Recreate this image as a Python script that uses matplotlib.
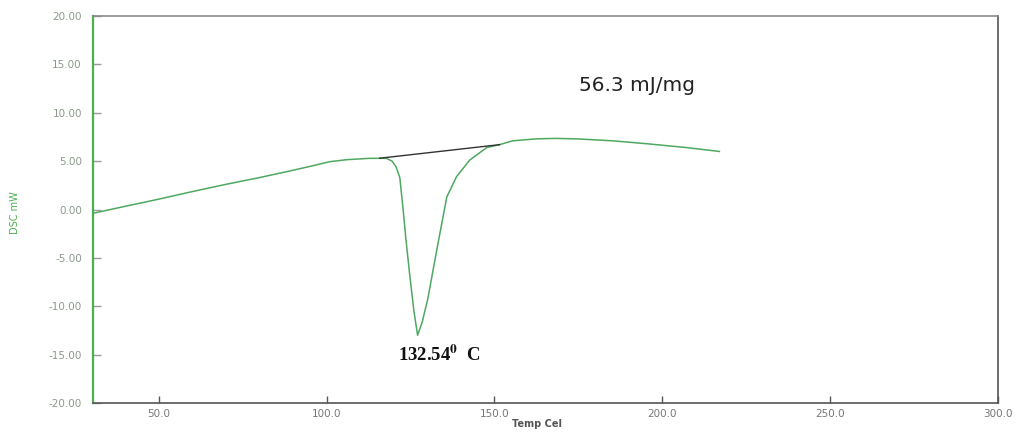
import matplotlib
matplotlib.use("Agg")
import matplotlib.pyplot as plt

plt.rcParams["mathtext.fontset"] = "stix"

# DSC curve (temperature in Cel, heat flow in mW)
temp = [30.4, 40.0, 50.0, 59.3, 70.0, 80.0, 89.0, 95.0, 100.9, 106.0, 112.8,
        117.8, 119.5, 120.7, 121.8, 122.7, 123.6, 124.7, 126.0, 127.1, 128.5,
        130.1, 132.8, 135.8, 138.7, 142.6, 147.7, 151.5, 155.4, 162.5, 168.0,
        174.5, 185.2, 195.3, 207.2, 217.0]
dsc = [-0.39, 0.33, 1.07, 1.8, 2.6, 3.3, 3.98, 4.45, 4.94, 5.15, 5.29,
       5.29, 5.0, 4.4, 3.3, 0.3, -3.0, -6.6, -10.5, -13.0, -11.6,
       -9.3, -4.2, 1.3, 3.4, 5.1, 6.4, 6.7, 7.1, 7.3, 7.35,
       7.3, 7.1, 6.8, 6.4, 6.0]

# Baseline tangent used for the enthalpy integration
base_temp = [115.8, 151.5]
base_dsc = [5.3, 6.7]

xticks = [50, 100, 150, 200, 250, 300]
xtick_labels = ["50.0", "100.0", "150.0", "200.0", "250.0", "300.0"]
yticks = [-20, -15, -10, -5, 0, 5, 10, 15, 20]
ytick_labels = ["-20.00", "-15.00", "-10.00", "-5.00", "0.00", "5.00", "10.00", "15.00", "20.00"]

fig = plt.figure(figsize=(10.19, 4.32), dpi=100)
ax = fig.add_axes([93/1019, 29/432, (998-93)/1019, (403-16)/432])

ax.plot(temp, dsc, color="#4fa860", lw=1.1)
ax.plot(base_temp, base_dsc, color="#333333", lw=1.0)

ax.set_xlim(30.4, 300)
ax.set_ylim(-20, 20)
ax.set_xticks(xticks)
ax.set_xticklabels(xtick_labels)
ax.set_yticks(yticks)
ax.set_yticklabels(ytick_labels)

ax.tick_params(axis="x", direction="in", length=5, width=1, color="#555555",
               labelsize=7.5, labelcolor="#777777", pad=4)
ax.tick_params(axis="y", direction="in", length=6, width=1, color="#9a9a9a",
               labelsize=7.5, labelcolor="#8a9a8a", pad=8)

ax.spines["left"].set_color("#4caf50")
ax.spines["left"].set_linewidth(1.6)
ax.spines["top"].set_color("#8a8a8a")
ax.spines["top"].set_linewidth(1.2)
ax.spines["bottom"].set_color("#555555")
ax.spines["bottom"].set_linewidth(1.2)
ax.spines["right"].set_color("#555555")
ax.spines["right"].set_linewidth(1.2)

ax.text(175.3, 12.8, "56.3 mJ/mg", fontsize=14.5, color="#222222",
        va="center", ha="left", family="DejaVu Sans")
ax.text(121.2, -15.0, r"132.54$^{\mathbf{0}}$  C", fontsize=13.5, color="#111111",
        va="center", ha="left", family="Liberation Serif", fontweight="bold")

fig.text(537/1019, 1 - 424/432, "Temp Cel", fontsize=7, color="#555555",
         ha="center", va="center", fontweight="bold")
fig.text(15/1019, 1 - 213/432, "DSC mW", fontsize=7, color="#4caf50",
         ha="center", va="center", rotation=90)

fig.savefig("out.png", dpi=100, facecolor="white")
